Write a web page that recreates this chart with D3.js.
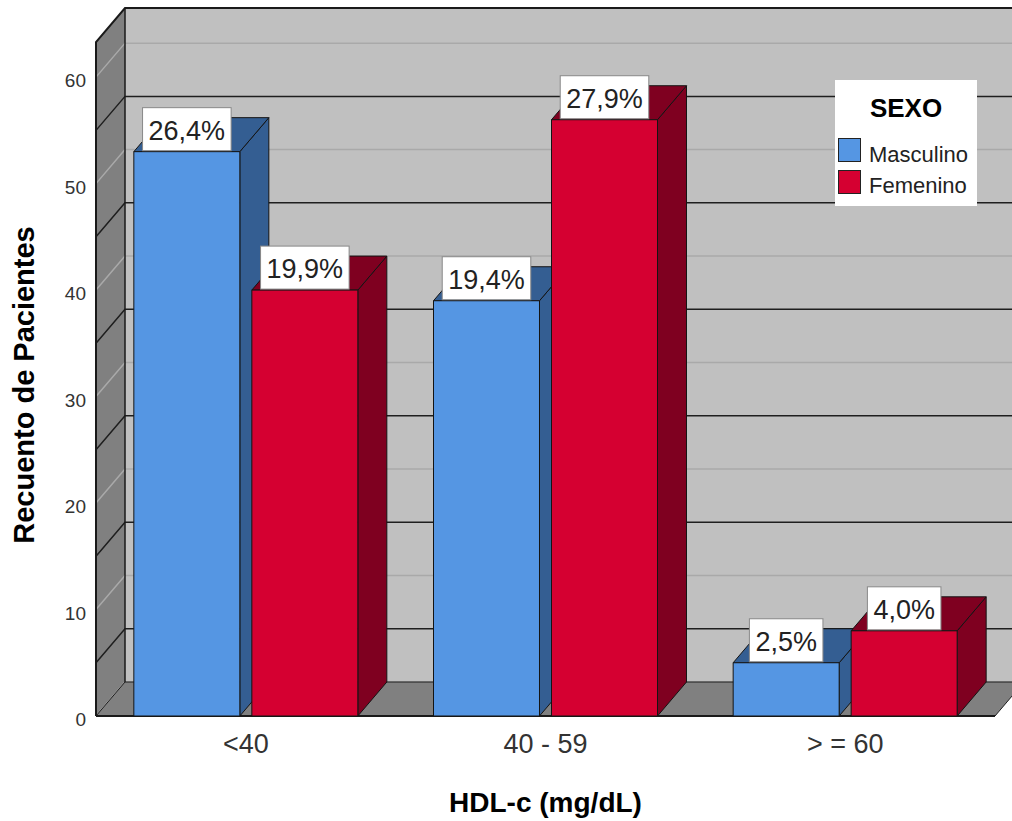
<!DOCTYPE html>
<html>
<head>
<meta charset="utf-8">
<script src="https://cdn.jsdelivr.net/npm/d3@7"></script>
<style>
  body { margin: 0; background: #fff; }
  svg { display: block; font-family: "Liberation Sans", Arial, sans-serif; }
</style>
</head>
<body>
<div id="chart"></div>
<script>
// data (counts of patients)
const categories = ["<40", "40 - 59", "> = 60"];
const series = ["Masculino", "Femenino"];
const masculino = [53, 39, 5];
const femenino = [40, 56, 8];
const yTicks = [0, 10, 20, 30, 40, 50, 60];
const gridLight = [0, 10, 20, 30, 40, 50, 60];
const gridDark = [5, 15, 25, 35, 45, 55];

const colors = {
    "Masculino": { front: "#5596e3", dark: "#345e92" },
    "Femenino": { front: "#d50031", dark: "#7f0020" }
};

const width = 1012, height = 821;
const plot = { left: 96, right: 995, top: 42, bottom: 716 };
const dx = 29, dy = 34;   // 3d depth offset
const yMax = 63.3;

const svg = d3.select("#chart").append("svg")
    .attr("width", width)
    .attr("height", height);

const y = d3.scaleLinear().domain([0, yMax]).range([plot.bottom, plot.top]);
const x0 = d3.scaleBand().domain(categories).range([plot.left, plot.right]).padding(0);
const groupW = 224;
const x1 = d3.scaleBand().domain(series).range([0, groupW]).paddingInner(0.1017);
const groupOffset = (x0.bandwidth() - groupW) / 2;

const total = d3.sum(masculino) + d3.sum(femenino);
const pct = v => d3.format(".1f")(v / total * 100).replace(".", ",") + "%";

// back wall
svg.append("rect")
    .attr("x", plot.left + dx).attr("y", plot.top - dy)
    .attr("width", plot.right - plot.left).attr("height", plot.bottom - plot.top)
    .attr("fill", "#c0c0c0");

// side wall
svg.append("path")
    .attr("d", `M${plot.left},${plot.bottom} L${plot.left + dx},${plot.bottom - dy} L${plot.left + dx},${plot.top - dy} L${plot.left},${plot.top} Z`)
    .attr("fill", "#808080");

// grid on walls
const grid = svg.append("g");
gridLight.forEach(v => {
    grid.append("path")
        .attr("d", `M${plot.left},${y(v)} L${plot.left + dx},${y(v) - dy} L${width + 40},${y(v) - dy}`)
        .attr("fill", "none").attr("stroke", "#a9a9a9").attr("stroke-width", 1.5);
});
gridDark.forEach(v => {
    grid.append("path")
        .attr("d", `M${plot.left},${y(v)} L${plot.left + dx},${y(v) - dy} L${width + 40},${y(v) - dy}`)
        .attr("fill", "none").attr("stroke", "#1e1e1e").attr("stroke-width", 1.5);
});

// floor
svg.append("path")
    .attr("d", `M${plot.left},${plot.bottom} L${plot.right},${plot.bottom} L${plot.right + dx},${plot.bottom - dy} L${plot.left + dx},${plot.bottom - dy} Z`)
    .attr("fill", "#808080")
    .attr("stroke", "#1e1e1e").attr("stroke-width", 1);

// wall edges
svg.append("path")
    .attr("d", `M${plot.left},${plot.bottom} L${plot.left},${plot.top} L${plot.left + dx},${plot.top - dy} L${width + 40},${plot.top - dy}`)
    .attr("fill", "none").attr("stroke", "#1a1a1a").attr("stroke-width", 2);
svg.append("line")
    .attr("x1", plot.left + dx).attr("x2", plot.left + dx)
    .attr("y1", plot.top - dy).attr("y2", plot.bottom - dy)
    .attr("stroke", "#1a1a1a").attr("stroke-width", 1.5);
svg.append("line")
    .attr("x1", plot.left).attr("x2", plot.right)
    .attr("y1", plot.bottom).attr("y2", plot.bottom)
    .attr("stroke", "#1a1a1a").attr("stroke-width", 2);

// bars
const bars = [];
categories.forEach((c, i) => {
    bars.push({ cat: c, s: "Masculino", v: masculino[i] });
    bars.push({ cat: c, s: "Femenino", v: femenino[i] });
});

const barG = svg.append("g");
bars.forEach(d => {
    const xl = x0(d.cat) + groupOffset + x1(d.s);
    const w = x1.bandwidth();
    const yt = y(d.v), yb = y(0);
    const g = barG.append("g")
        .attr("stroke", "#141414").attr("stroke-width", 1).attr("stroke-linejoin", "round");
    g.append("path")
        .attr("d", `M${xl + w},${yt} L${xl + w + dx},${yt - dy} L${xl + w + dx},${yb - dy} L${xl + w},${yb} Z`)
        .attr("fill", colors[d.s].dark);
    g.append("path")
        .attr("d", `M${xl},${yt} L${xl + dx},${yt - dy} L${xl + w + dx},${yt - dy} L${xl + w},${yt} Z`)
        .attr("fill", colors[d.s].dark);
    g.append("rect")
        .attr("x", xl).attr("y", yt)
        .attr("width", w).attr("height", yb - yt)
        .attr("fill", colors[d.s].front);
});

// value labels
const labelG = svg.append("g");
bars.forEach(d => {
    const cx = x0(d.cat) + groupOffset + x1(d.s) + x1.bandwidth() / 2;
    const yt = y(d.v);
    const t = labelG.append("text")
        .attr("x", cx).attr("y", yt - 12)
        .attr("text-anchor", "middle")
        .attr("font-size", 27)
        .attr("fill", "#222")
        .text(pct(d.v));
    const bb = t.node().getBBox();
    labelG.insert("rect", "text")
        .attr("x", cx - bb.width / 2 - 6).attr("y", yt - 44)
        .attr("width", bb.width + 12).attr("height", 43)
        .attr("fill", "#fff")
        .attr("stroke", "#888").attr("stroke-width", 1);
});

// y tick labels
svg.append("g").selectAll("text")
    .data(yTicks)
    .join("text")
    .attr("x", 86).attr("y", d => y(d) + 10)
    .attr("text-anchor", "end")
    .attr("font-size", 19)
    .attr("fill", "#333")
    .text(d => d);

// category labels
svg.append("g").selectAll("text")
    .data(categories)
    .join("text")
    .attr("x", d => x0(d) + x0.bandwidth() / 2)
    .attr("y", 753)
    .attr("text-anchor", "middle")
    .attr("font-size", 27)
    .attr("fill", "#333")
    .text(d => d);

// axis titles
svg.append("text")
    .attr("x", (plot.left + plot.right) / 2).attr("y", 812)
    .attr("text-anchor", "middle")
    .attr("font-size", 28).attr("font-weight", "bold")
    .text("HDL-c (mg/dL)");

svg.append("text")
    .attr("transform", "translate(34,385) rotate(-90)")
    .attr("text-anchor", "middle")
    .attr("font-size", 29).attr("font-weight", "bold")
    .text("Recuento de Pacientes");

// legend
const legend = svg.append("g").attr("transform", "translate(835,80)");
legend.append("rect")
    .attr("width", 142).attr("height", 126)
    .attr("fill", "#fff");
legend.append("text")
    .attr("x", 71).attr("y", 37)
    .attr("text-anchor", "middle")
    .attr("font-size", 26).attr("font-weight", "bold")
    .text("SEXO");
series.forEach((s, i) => {
    legend.append("rect")
        .attr("x", 3.5).attr("y", 58.5 + i * 32)
        .attr("width", 22).attr("height", 23)
        .attr("fill", colors[s].front)
        .attr("stroke", "#222").attr("stroke-width", 1);
    legend.append("text")
        .attr("x", 34).attr("y", 82 + i * 31)
        .attr("font-size", 22)
        .attr("fill", "#222")
        .text(s);
});
</script>
</body>
</html>
